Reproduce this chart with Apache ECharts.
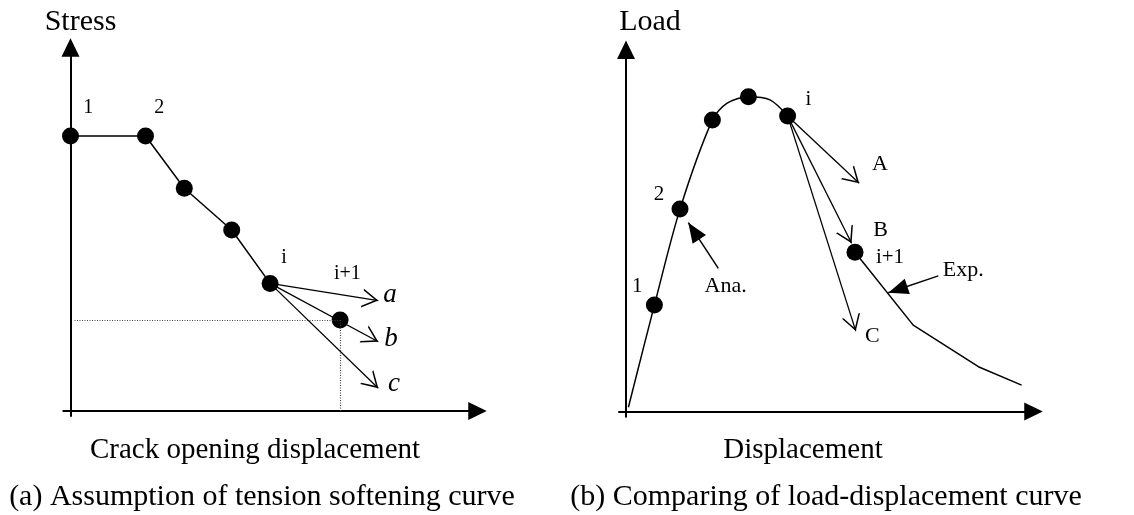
<!DOCTYPE html>
<html>
<head>
<meta charset="utf-8">
<script src="https://cdn.jsdelivr.net/npm/echarts@6/dist/echarts.min.js"></script>
<style>
  html, body { margin: 0; padding: 0; background: #fff; }
  #chart { width: 1134px; height: 515px; }
</style>
</head>
<body>
<div id="chart"></div>
<script>
// (a) Tension softening curve: stress vs. crack opening displacement
const softeningCurve = [[0, 68.75], [18.75, 68.75], [28.45, 55.7], [40.3, 45.25], [49.9, 31.9]];
const softeningNext = [67.4, 22.75];
const softeningTrials = [[76.95, 27.6], [76.95, 17.3], [76.95, 5.7]];      // a, b, c
const softeningTrialNames = ['a', 'b', 'c'];

// (b) Load-displacement curve; third field = 1 for a computed step (dot)
const analysisCurve = [
  [0.6, 1.05, 0], [7.1, 26.6, 1], [13.5, 50.6, 1], [21.6, 72.9, 1],
  [25.2, 77.05, 0], [30.6, 78.7, 1], [36.0, 77.9, 0], [40.4, 73.9, 1]
];
const experimentCurve = [[57.25, 39.8, 1], [71.8, 21.6, 0], [88.1, 11.2, 0], [98.9, 6.6, 0]];
const loadTrials = [[58.3, 57.05], [56.4, 42.05], [57.45, 20.1]];          // A, B, C
const loadTrialNames = ['A', 'B', 'C'];
const anaPointer = [[23.08, 35.8], [15.58, 47.2]];
const expPointer = [[78.08, 33.9], [65.58, 29.7]];

const axisTitles = ['Stress', 'Crack opening displacement', 'Load', 'Displacement'];
const captions = ['(a) Assumption of tension softening curve', '(b) Comparing of load-displacement curve'];

const SERIF = '"Liberation Serif", "Times New Roman", serif';
// thin open chevron used as an arrow head (apex at the top)
const OPEN_HEAD = 'path://M9.5,0 L19,16 L17.3,16 L9.5,3.1 L1.7,16 L0,16 Z';
const HEAD_SIZE = [19, 16];
const DOT = 17;

function arrowLines(from, tips) {
  return tips.map(t => [{ coord: from }, { coord: t }]);
}

function axisPair(idx, xMin, xMax, yMin, yMax) {
  const line = {
    show: true, onZero: true,
    symbol: ['none', 'triangle'], symbolSize: [18, 18.5],
    lineStyle: { color: '#000', width: 2 }
  };
  return {
    x: { type: 'value', gridIndex: idx, min: xMin, max: xMax, axisLine: line,
         axisTick: { show: false }, axisLabel: { show: false }, splitLine: { show: false } },
    y: { type: 'value', gridIndex: idx, min: yMin, max: yMax, axisLine: line,
         axisTick: { show: false }, axisLabel: { show: false }, splitLine: { show: false } }
  };
}

const a0 = axisPair(0, -1.8, 101.75, -1.25, 90.875);
const a1 = axisPair(1, -1.75, 101.875, -1.3, 90.44);

const dotStyle = { color: '#000', opacity: 1 };
const thinLine = { color: '#000', width: 1.3, type: 'solid' };

function text(str, x, y, size, extra) {
  return Object.assign({
    type: 'text', x: x, y: y, silent: true,
    style: {
      text: str, fill: '#000', font: size + 'px ' + SERIF,
      align: 'center', verticalAlign: 'middle',
      textAlign: 'center', textVerticalAlign: 'middle'
    }
  }, extra || {});
}
function italic(str, x, y, size) {
  const t = text(str, x, y, size);
  t.style.font = 'italic ' + size + 'px ' + SERIF;
  return t;
}

const option = {
  animation: false,
  backgroundColor: '#fff',
  grid: [
    { left: 63.3, top: 47.5, width: 414.2, height: 368.5 },
    { left: 619, top: 49.75, width: 414.5, height: 366.95 }
  ],
  xAxis: [a0.x, a1.x],
  yAxis: [a0.y, a1.y],
  series: [
    {
      name: 'Softening', type: 'line', xAxisIndex: 0, yAxisIndex: 0,
      data: softeningCurve, symbol: 'circle', symbolSize: DOT,
      itemStyle: dotStyle, lineStyle: { color: '#000', width: 1.5 }, z: 3,
      markLine: {
        silent: true, animation: false, label: { show: false },
        symbol: ['none', OPEN_HEAD], symbolSize: HEAD_SIZE,
        symbolOffset: [[0, 0], [0, HEAD_SIZE[1] / 2]],
        lineStyle: thinLine,
        data: arrowLines(softeningCurve[softeningCurve.length - 1], softeningTrials)
      }
    },
    {
      name: 'Guide', type: 'line', xAxisIndex: 0, yAxisIndex: 0,
      data: [], z: 1,
      markLine: {
        silent: true, animation: false, label: { show: false },
        symbol: ['none', 'none'],
        lineStyle: { color: '#444', width: 1.2, type: [1, 1.5] },
        data: [
          [{ coord: [1, softeningNext[1]] }, { coord: softeningNext }],
          [{ coord: softeningNext }, { coord: [softeningNext[0], 0] }]
        ]
      }
    },
    {
      name: 'Next step', type: 'scatter', xAxisIndex: 0, yAxisIndex: 0,
      data: [softeningNext], symbol: 'circle', symbolSize: DOT, itemStyle: dotStyle, z: 4
    },
    {
      name: 'Ana.', type: 'line', xAxisIndex: 1, yAxisIndex: 1,
      data: analysisCurve.map(p => ({ value: [p[0], p[1]], symbol: p[2] ? 'circle' : 'none' })),
      symbolSize: DOT, showAllSymbol: true, smooth: 0.3,
      itemStyle: dotStyle, lineStyle: { color: '#000', width: 1.5 }, z: 3,
      markLine: {
        silent: true, animation: false, label: { show: false },
        symbol: ['none', OPEN_HEAD], symbolSize: HEAD_SIZE,
        symbolOffset: [[0, 0], [0, HEAD_SIZE[1] / 2]],
        lineStyle: thinLine,
        data: arrowLines(analysisCurve[analysisCurve.length - 1].slice(0, 2), loadTrials)
      }
    },
    {
      name: 'Exp.', type: 'line', xAxisIndex: 1, yAxisIndex: 1,
      data: experimentCurve.map(p => ({ value: [p[0], p[1]], symbol: p[2] ? 'circle' : 'none' })),
      symbolSize: DOT, showAllSymbol: true,
      itemStyle: dotStyle, lineStyle: { color: '#000', width: 1.5 }, z: 3,
      markLine: {
        silent: true, animation: false, label: { show: false },
        symbol: ['none', 'triangle'], symbolSize: [16, 20],
        symbolOffset: [[0, 0], [0, 10]],
        lineStyle: { color: '#000', width: 1.5, type: 'solid' },
        data: [
          [{ coord: anaPointer[0] }, { coord: anaPointer[1] }],
          [{ coord: expPointer[0] }, { coord: expPointer[1] }]
        ]
      }
    }
  ],
  graphic: [
    text(axisTitles[0], 80.5, 22, 30),
    text(axisTitles[1], 255, 450, 29),
    text(captions[0], 262, 497, 30),
    text('1', 88.3, 108, 20),
    text('2', 159.3, 108, 20),
    text('i', 284, 257.5, 20),
    text('i+1', 347.3, 274, 20),
    italic(softeningTrialNames[0], 390, 295, 27),
    italic(softeningTrialNames[1], 391, 339, 27),
    italic(softeningTrialNames[2], 394, 384, 27),

    text(axisTitles[2], 650, 22.5, 30),
    text(axisTitles[3], 803, 450, 29),
    text(captions[1], 826, 497, 30),
    text('1', 637.3, 286, 21),
    text('2', 659, 194, 21),
    text('i', 808.3, 99, 21),
    text('i+1', 890, 257, 21),
    text(loadTrialNames[0], 880, 164, 22),
    text(loadTrialNames[1], 880.7, 230, 22),
    text(loadTrialNames[2], 872.3, 336, 22),
    text('Ana.', 725.7, 286, 22),
    text('Exp.', 963.3, 270, 22)
  ]
};

const chart = echarts.init(document.getElementById('chart'), null, { renderer: 'canvas' });
chart.setOption(option);
</script>
</body>
</html>
